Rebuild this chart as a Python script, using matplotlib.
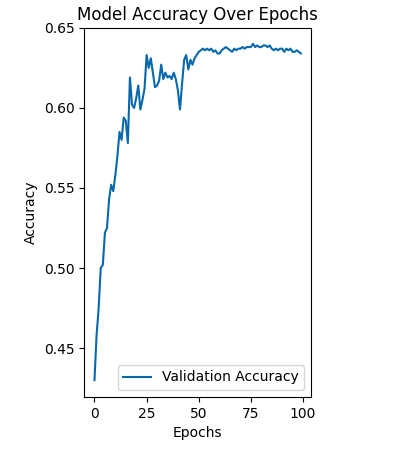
import numpy as np
import matplotlib.pyplot as plt

epochs = list(range(100))
val_acc = [
    0.430, 0.458, 0.475, 0.500, 0.502, 0.522, 0.525, 0.543, 0.552, 0.548,
    0.558, 0.570, 0.585, 0.580, 0.594, 0.592, 0.578, 0.619, 0.602, 0.600,
    0.606, 0.614, 0.599, 0.605, 0.612, 0.633, 0.625, 0.631, 0.622, 0.613,
    0.614, 0.617, 0.627, 0.618, 0.622, 0.619, 0.620, 0.618, 0.622, 0.618,
    0.611, 0.599, 0.615, 0.630, 0.633, 0.624, 0.630, 0.627, 0.631, 0.633,
    0.635, 0.636, 0.637, 0.636, 0.637, 0.636, 0.637, 0.635, 0.636, 0.634,
    0.634, 0.636, 0.637, 0.638, 0.637, 0.636, 0.635, 0.637, 0.636, 0.637,
    0.637, 0.638, 0.637, 0.638, 0.638, 0.638, 0.640, 0.638, 0.639, 0.638,
    0.638, 0.639, 0.639, 0.638, 0.639, 0.637, 0.636, 0.637, 0.636, 0.637,
    0.637, 0.635, 0.637, 0.636, 0.637, 0.635, 0.635, 0.636, 0.635, 0.634,
]

fig = plt.figure(figsize=(3.97, 4.49), dpi=100)
ax = fig.add_axes([0.212, 0.116, 0.572, 0.822])
ax.plot(epochs, val_acc, color='#0868ac', linewidth=1.5, label='Validation Accuracy')
ax.set_title('Model Accuracy Over Epochs')
ax.set_xlabel('Epochs')
ax.set_ylabel('Accuracy')
ax.set_yticks([0.45, 0.50, 0.55, 0.60, 0.65])
ax.set_ylim(0.4195, 0.65)
ax.legend(loc='lower right')
fig.savefig('out.png', dpi=100)
